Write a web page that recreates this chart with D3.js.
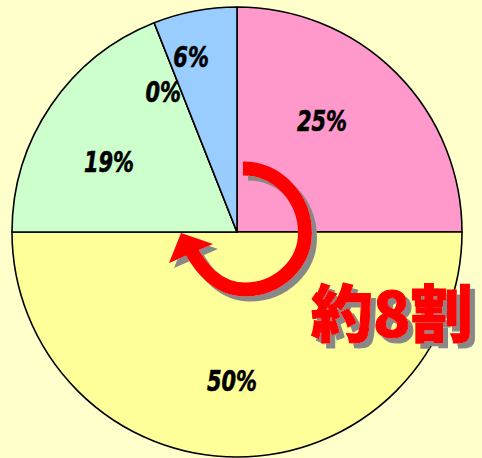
<!DOCTYPE html>
<html>
<head>
<meta charset="utf-8">
<script src="https://cdn.jsdelivr.net/npm/d3@7"></script>
<style>
    html, body { margin: 0; padding: 0; background: #FFFFCC; }
    svg { display: block; }
</style>
</head>
<body>
<div id="chart"></div>
<script>
// slices, clockwise from 12 o'clock
const categories = ['A', 'B', 'C', 'D', 'E'];
const shares = [25, 50, 19, 0, 6];
const labels = ['25%', '50%', '19%', '0%', '6%'];
const colors = ['#FF99CC', '#FFFF99', '#CCFFCC', '#FFFFCC', '#99CCFF'];
const callout = '約8割';

const width = 482;
const height = 458;
const cx = 237;
const cy = 232;
const radius = 225;

// label spots as [angle in degrees, distance from centre]
const labelSpots = [[37.4, 140], [181.9, 149], [298.7, 146], [332.3, 159], [345.3, 181]];

const svg = d3.select('#chart').append('svg')
    .attr('width', width)
    .attr('height', height);

// grey drop shadow for the arrow and the callout
const shadow = svg.append('defs').append('filter')
    .attr('id', 'shadow')
    .attr('x', '-20%').attr('y', '-20%')
    .attr('width', '140%').attr('height', '140%');
shadow.append('feOffset').attr('in', 'SourceAlpha').attr('dx', 5).attr('dy', 5).attr('result', 'off');
shadow.append('feFlood').attr('flood-color', '#888888').attr('result', 'col');
shadow.append('feComposite').attr('in', 'col').attr('in2', 'off').attr('operator', 'in').attr('result', 'sh');
const merge = shadow.append('feMerge');
merge.append('feMergeNode').attr('in', 'sh');
merge.append('feMergeNode').attr('in', 'SourceGraphic');

svg.append('rect')
    .attr('width', width)
    .attr('height', height)
    .attr('fill', '#FFFFCC');

const g = svg.append('g')
    .attr('transform', `translate(${cx},${cy})`);

const pie = d3.pie().sort(null).value(d => d.value);
const arc = d3.arc().innerRadius(0).outerRadius(radius);

const slices = pie(categories.map((c, i) => ({ name: c, value: shares[i] })));

g.selectAll('path.slice')
    .data(slices)
    .enter().append('path')
    .attr('class', 'slice')
    .attr('d', arc)
    .attr('fill', (d, i) => colors[i])
    .attr('stroke', '#000')
    .attr('stroke-width', 1.6)
    .attr('stroke-linejoin', 'round');

g.selectAll('text.pct')
    .data(slices)
    .enter().append('text')
    .attr('class', 'pct')
    .attr('transform', (d, i) => {
        const a = labelSpots[i][0] * Math.PI / 180;
        const r = labelSpots[i][1];
        return `translate(${r * Math.sin(a)},${-r * Math.cos(a)}) scale(0.8,1)`;
    })
    .attr('text-anchor', 'middle')
    .attr('dy', '0.36em')
    .style('font-family', '"Liberation Sans Narrow", "DejaVu Sans Condensed", sans-serif')
    .style('font-weight', 'bold')
    .style('font-style', 'italic')
    .style('font-size', '29px')
    .attr('fill', '#000')
    .attr('stroke', '#000')
    .attr('stroke-width', 0.6)
    .text((d, i) => labels[i]);

// curved arrow, offsets from the pie centre
const p = d3.path();
p.moveTo(6, -63.5);
p.bezierCurveTo(40, -63.5, 68, -34.6, 68, 1);
p.bezierCurveTo(68, 32, 41, 57.5, 8, 57.5);
p.bezierCurveTo(-21, 57.5, -37, 34, -47, 17);

const h = d3.path();
h.moveTo(-56, 1);
h.lineTo(-68, 31);
h.lineTo(-24, 12);
h.closePath();

const arrow = svg.append('g')
    .attr('transform', `translate(${cx},${cy})`)
    .attr('filter', 'url(#shadow)');
arrow.append('path')
    .attr('d', p.toString())
    .attr('fill', 'none')
    .attr('stroke', '#FF0000')
    .attr('stroke-width', 14);
arrow.append('path')
    .attr('d', h.toString())
    .attr('fill', '#FF0000');

svg.append('text')
    .attr('x', 311)
    .attr('y', 337)
    .attr('filter', 'url(#shadow)')
    .style('font-family', '"Noto Sans CJK JP", sans-serif')
    .style('font-weight', 900)
    .style('font-size', '62px')
    .attr('fill', '#FF0000')
    .attr('stroke', '#FF0000')
    .attr('stroke-width', 1.2)
    .text(callout);
</script>
</body>
</html>
